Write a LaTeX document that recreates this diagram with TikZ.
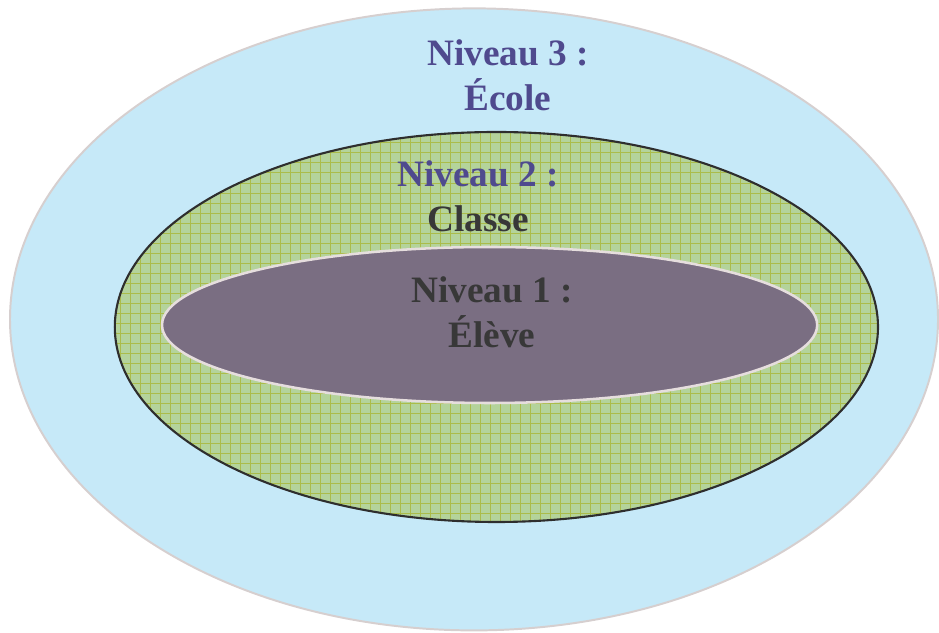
\documentclass[tikz,border=0pt]{standalone}
\usepackage{fontspec}
\setmainfont{Liberation Serif}

\definecolor{ecolefill}{HTML}{C6E9F8}
\definecolor{ecoleline}{HTML}{D6CFCF}
\definecolor{classefill}{HTML}{B4D39B}
\definecolor{classegrid}{HTML}{ABBC4A}
\definecolor{classeline}{HTML}{2E2E2E}
\definecolor{elevefill}{HTML}{7A6E82}
\definecolor{eleveline}{HTML}{E6DEDE}
\definecolor{niveautext}{HTML}{4F4A8E}
\definecolor{darktext}{HTML}{383838}

\tikzset{
  label/.style={font=\bfseries\fontsize{26.5}{32}\selectfont,align=center,inner sep=0pt}
}

\begin{document}
\begin{tikzpicture}

%% - Bounding box
%% - --------------------------------------
\useasboundingbox (0,0) rectangle (23.475,15.825);

%% - Niveau 3 : Ecole
%% - --------------------------------------
\filldraw[color=ecoleline,fill=ecolefill,line width=1.4pt] (11.85,7.84) ellipse [x radius=11.6cm, y radius=7.775cm];

%% - Niveau 2 : Classe
%% - --------------------------------------
\fill[classefill] (12.41,7.65) ellipse [x radius=9.54cm, y radius=4.875cm];
\begin{scope}
  \clip (12.41,7.65) ellipse [x radius=9.54cm, y radius=4.875cm];
  \draw[classegrid,line width=0.7pt,step=0.25cm] (2.5,2.5) grid (22.5,13);
\end{scope}
\draw[classeline,line width=1.5pt] (12.41,7.65) ellipse [x radius=9.54cm, y radius=4.875cm];

%% - Niveau 1 : Eleve
%% - --------------------------------------
\filldraw[color=eleveline,fill=elevefill,line width=1.8pt] (12.24,7.7) ellipse [x radius=8.19cm, y radius=1.95cm];

%% - Draw Text
%% - --------------------------------------
\node[label,text=niveautext] (niv3) at (12.7,13.95) {Niveau 3 :\\École};
\node[label,text=niveautext] (niv2) at (11.95,10.925) {Niveau 2 :\\\textcolor{darktext}{Classe}};
\node[label,text=darktext] (niv1) at (12.3,8.025) {Niveau 1 :\\Élève};

\end{tikzpicture}
\end{document}
